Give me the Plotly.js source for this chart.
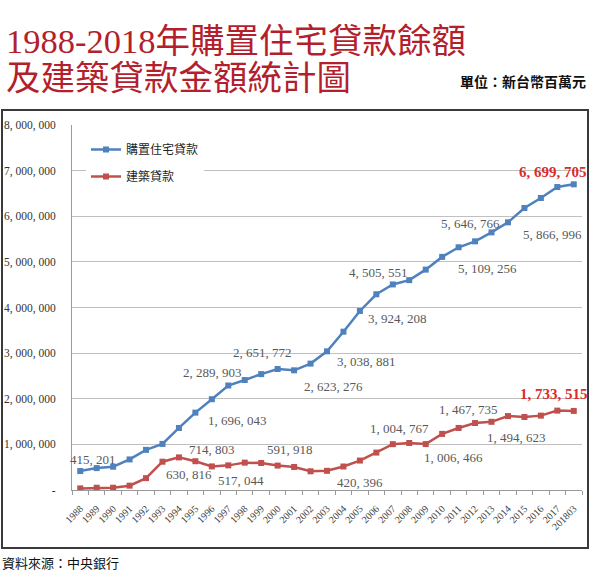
<!DOCTYPE html>
<html>
<head>
<meta charset="utf-8">
<script src="https://cdn.plot.ly/plotly-3.0.1.min.js"></script>
<style>html,body{margin:0;padding:0;background:#fff;}#chart{width:600px;height:574px;}</style>
</head>
<body>
<div id="chart"></div>
<script>
// ---- data ----
const years = ['1988','1989','1990','1991','1992','1993','1994','1995','1996','1997','1998','1999','2000','2001','2002','2003','2004','2005','2006','2007','2008','2009','2010','2011','2012','2013','2014','2015','2016','2017','201803'];
const housingLoans = [415201, 480000, 510000, 670000, 880000, 1010000, 1360000, 1696043, 1990000, 2289903, 2410000, 2540000, 2651772, 2623276, 2770000, 3038881, 3470000, 3924208, 4290000, 4505551, 4600000, 4830000, 5109256, 5320000, 5450000, 5646766, 5866996, 6180000, 6400000, 6640000, 6699705];
const constructionLoans = [35000, 50000, 50000, 95000, 260000, 620000, 714803, 630816, 517044, 540000, 600000, 591918, 535000, 505000, 410000, 420396, 515000, 645000, 820000, 1004767, 1030000, 1006466, 1230000, 1360000, 1467735, 1494623, 1620000, 1600000, 1630000, 1740000, 1733515];
const seriesNames = ['購置住宅貸款', '建築貸款'];
const yTickValues = [0, 1000000, 2000000, 3000000, 4000000, 5000000, 6000000, 7000000, 8000000];
const yTickLabels = ['-', '1, 000, 000', '2, 000, 000', '3, 000, 000', '4, 000, 000', '5, 000, 000', '6, 000, 000', '7, 000, 000', '8, 000, 000'];
const titleLine1 = '1988-2018年購置住宅貸款餘額';
const titleLine2 = '及建築貸款金額統計圖';
const unitText = '單位：新台幣百萬元';
const sourceText = '資料來源：中央銀行';

// ---- label placement (which points are labelled, pixel offsets) ----
const housingLabelIdx = [0, 7, 9, 12, 13, 15, 17, 19, 22, 25, 26];
const housingLabelShift = [[13,12],[42,-8],[-16,13],[-15,17],[39,-16],[39,-10],[38,-8],[-14,12],[45,-12],[-21,9],[45,-12]];
const constrLabelIdx = [6, 7, 8, 11, 15, 19, 21, 24, 25];
const constrLabelShift = [[33,8],[-6,-13],[29,-14],[29,13],[33,-12],[7,16],[28,-13],[-7,14],[25,-16]];
const lastIdx = years.length - 1;

// ---- layout helpers ----
const L = 72, R = 582, T = 125, B = 490;
const px = x => (x - L) / (R - L);
const py = y => (B - y) / (B - T);
const fmt = v => v.toLocaleString('en-US').replace(/,/g, ', ');

const BLUE = '#4f81bd', RED = '#c0504d';
const numFont = 'Liberation Serif, DejaVu Serif, serif';
const cjkFont = 'Noto Sans CJK TC, Noto Sans CJK SC, sans-serif';

const traces = [
  {x: years, y: housingLoans, name: seriesNames[0], type: 'scatter', mode: 'lines+markers',
   legendgroup: 'a', line: {color: BLUE, width: 2.5}, marker: {symbol: 'square', size: 6, color: BLUE}},
  {x: years, y: constructionLoans, name: seriesNames[1], type: 'scatter', mode: 'lines+markers',
   legendgroup: 'b', line: {color: RED, width: 2.5}, marker: {symbol: 'square', size: 6, color: RED}}
];

const annotations = [];
// category axis: annotation x given as category index
function addLabels(vals, idxs, shifts) {
  idxs.forEach((i, k) => {
    annotations.push({x: i, y: vals[i], xref: 'x', yref: 'y', showarrow: false,
      text: fmt(vals[i]), xshift: shifts[k][0], yshift: shifts[k][1],
      font: {family: numFont, size: 13, color: '#595959'}});
  });
}
addLabels(housingLoans, housingLabelIdx, housingLabelShift);
addLabels(constructionLoans, constrLabelIdx, constrLabelShift);
annotations.push({x: lastIdx, y: housingLoans[lastIdx], xref: 'x', yref: 'y', showarrow: false,
  text: '<b>' + fmt(housingLoans[lastIdx]) + '</b>', xshift: -21, yshift: 12,
  font: {family: numFont, size: 15, color: '#dc2b2b'}});
annotations.push({x: lastIdx, y: constructionLoans[lastIdx], xref: 'x', yref: 'y', showarrow: false,
  text: '<b>' + fmt(constructionLoans[lastIdx]) + '</b>', xshift: -20, yshift: 17,
  font: {family: numFont, size: 15, color: '#dc2b2b'}});

// titles and notes
annotations.push({xref: 'paper', yref: 'paper', x: px(4), y: py(41), xanchor: 'left', yanchor: 'middle',
  showarrow: false, text: titleLine1, font: {family: 'Liberation Serif, Noto Sans CJK TC', size: 34.5, color: '#b31f2c'}});
annotations.push({xref: 'paper', yref: 'paper', x: px(4), y: py(78), xanchor: 'left', yanchor: 'middle',
  showarrow: false, text: titleLine2, font: {family: 'Liberation Serif, Noto Sans CJK TC', size: 34.5, color: '#b31f2c'}});
annotations.push({xref: 'paper', yref: 'paper', x: px(588), y: py(81), xanchor: 'right', yanchor: 'middle',
  showarrow: false, text: '<b>' + unitText + '</b>', font: {family: cjkFont, size: 14, color: '#111'}});
annotations.push({xref: 'paper', yref: 'paper', x: px(0), y: py(562), xanchor: 'left', yanchor: 'middle',
  showarrow: false, text: sourceText, font: {family: cjkFont, size: 13, color: '#111'}});

const layout = {
  width: 600, height: 574,
  margin: {l: L, r: 600 - R, t: T, b: 574 - B, pad: 0},
  paper_bgcolor: '#fff', plot_bgcolor: '#fff',
  showlegend: true,
  legend: {x: px(86), y: py(135), xanchor: 'left', yanchor: 'top', bgcolor: '#fff', borderwidth: 0,
    traceorder: 'grouped', tracegroupgap: 8, itemwidth: 30,
    font: {family: cjkFont, size: 12, color: '#262626'}},
  xaxis: {type: 'category', range: [-0.5, years.length - 0.5], tickangle: -45, showgrid: false,
    showline: true, linecolor: '#9a9a9a', linewidth: 1, ticks: 'outside', tickson: 'boundaries',
    ticklen: 4, tickcolor: '#9a9a9a', ticklabelstandoff: 8,
    tickfont: {family: numFont, size: 10, color: '#404040'}, fixedrange: true},
  yaxis: {range: [0, 8000000], tickvals: yTickValues, ticktext: yTickLabels, showgrid: true,
    gridcolor: '#c0c0c0', gridwidth: 1, zeroline: false, showline: true, linecolor: '#9a9a9a',
    ticks: '', ticklabelstandoff: 13, tickfont: {family: numFont, size: 11.5, color: '#333'}, fixedrange: true},
  shapes: [{type: 'rect', xref: 'paper', yref: 'paper', x0: px(2), x1: px(588), y0: py(548), y1: py(110),
    line: {color: '#3a3a3a', width: 2}, fillcolor: 'rgba(0,0,0,0)', layer: 'below'}],
  annotations: annotations
};

Plotly.newPlot('chart', traces, layout, {displayModeBar: false, staticPlot: true});
</script>
</body>
</html>
